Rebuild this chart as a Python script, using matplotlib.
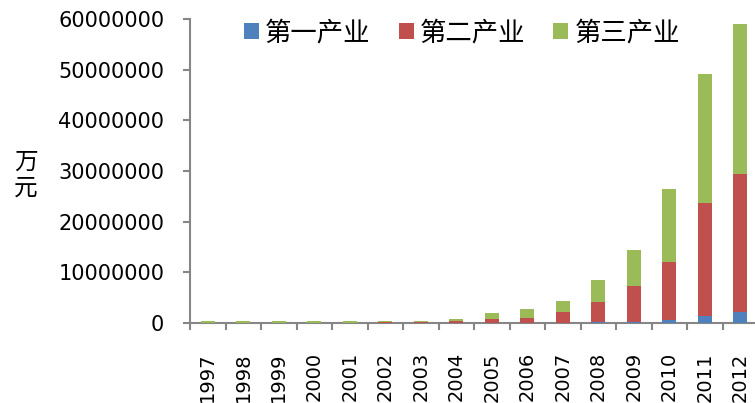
import matplotlib
matplotlib.use("Agg")
import matplotlib.pyplot as plt
import numpy as np

years = ["1997", "1998", "1999", "2000", "2001", "2002", "2003", "2004",
         "2005", "2006", "2007", "2008", "2009", "2010", "2011", "2012"]
primary = [15000, 15000, 15000, 15000, 15000, 20000, 20000, 30000,
           40000, 50000, 60000, 100000, 250000, 600000, 1400000, 2100000]
secondary = [70000, 70000, 70000, 70000, 70000, 90000, 90000, 420000,
             810000, 1000000, 2050000, 4000000, 7000000, 11400000, 22200000, 27300000]
tertiary = [215000, 215000, 215000, 215000, 215000, 350000, 350000, 400000,
            1150000, 1750000, 2200000, 4300000, 7250000, 14400000, 25500000, 29700000]
series_names = ["第一产业", "第二产业", "第三产业"]
colors = ["#4F81BD", "#C0504D", "#9BBB59"]
yticks = [0, 10000000, 20000000, 30000000, 40000000, 50000000, 60000000]

plt.rcParams['font.family'] = ['DejaVu Sans', 'Noto Sans CJK SC']

fig = plt.figure(figsize=(7.55, 4.03), dpi=100)
ax = fig.add_axes([190/755, 1-323/403, 568/755, (323-19)/403])

x = np.arange(len(years))
p = np.array(primary)
s = np.array(secondary)
t = np.array(tertiary)
w = 0.4
b1 = ax.bar(x, p, w, color=colors[0], label=series_names[0], zorder=3)
b2 = ax.bar(x, s, w, bottom=p, color=colors[1], label=series_names[1], zorder=3)
b3 = ax.bar(x, t, w, bottom=p+s, color=colors[2], label=series_names[2], zorder=3)

ax.set_xlim(-0.5, len(years)-0.5)
ax.set_ylim(0, 60000000)
ax.set_yticks(yticks)
ax.set_yticklabels([str(v) for v in yticks], fontsize=15)
ax.set_xticks(np.arange(len(years)+1)-0.5, minor=False)
ax.set_xticklabels([])
ax.set_xticks(x, minor=True)
ax.set_xticklabels(years, minor=True, rotation=90, fontsize=14)
ax.tick_params(axis='x', which='minor', length=0, pad=21)
ax.tick_params(axis='x', which='major', length=5, width=1.5, color='#868686', direction='out')
ax.tick_params(axis='y', length=5, width=1.5, color='#868686', direction='out', pad=13.5)

for sp in ['top', 'right']:
    ax.spines[sp].set_visible(False)
for sp in ['left', 'bottom']:
    ax.spines[sp].set_color('#868686')
    ax.spines[sp].set_linewidth(1.5)

fig.text(26/755, 1-175/403, "万\n元", fontsize=17, ha='center', va='center',
         family=['Noto Sans CJK SC'], linespacing=1.15)

fig.legend(handles=[b1, b2, b3], labels=series_names, ncol=3,
           loc='center', bbox_to_anchor=(462/755, 1-33/403), frameon=False,
           prop={'family': ['Noto Sans CJK SC'], 'size': 19},
           handlelength=0.57, handleheight=0.57, handletextpad=0.23,
           columnspacing=1.06, borderpad=0, borderaxespad=0)

fig.savefig("out.png", dpi=100)
